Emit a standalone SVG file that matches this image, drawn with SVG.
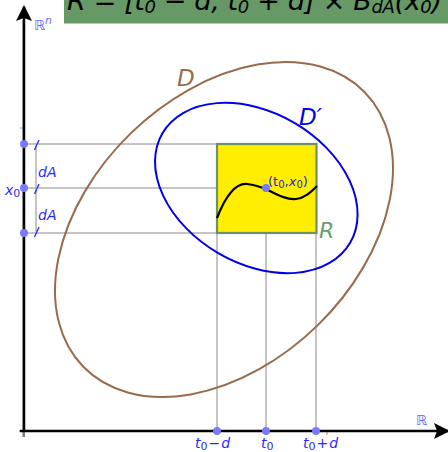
<svg xmlns="http://www.w3.org/2000/svg" width="448" height="452" viewBox="0 0 448 452">
<style>
.grid{stroke:#c4c4c4;stroke-width:2;fill:none}
.lbl{font-family:"DejaVu Sans","Liberation Sans",sans-serif;fill:#2828ff}
.it{font-style:italic}
.dot{fill:#7a7aff}
.slash{stroke:#2828ff;stroke-width:1.3}
</style>
<defs>
<marker id="ah" viewBox="0 0 16 16" refX="14" refY="8" markerWidth="16" markerHeight="16" markerUnits="userSpaceOnUse" orient="auto">
<path d="M0,0 L16,8 L0,16 L3,8 Z" fill="#000"/>
</marker>
</defs>
<rect width="448" height="452" fill="#fff"/>
<g id="title">
<rect x="64" y="0" width="384" height="23.5" fill="#669966"/>
<text x="67" y="10" font-family="'DejaVu Sans',sans-serif" font-style="italic" font-size="27" fill="#000" textLength="375" lengthAdjust="spacing">R = [t<tspan font-size="18" dy="3">0</tspan><tspan dy="-3"> − d, t</tspan><tspan font-size="18" dy="3">0</tspan><tspan dy="-3"> + d] × B</tspan><tspan font-size="18" dy="3">dA</tspan><tspan dy="-3">(x</tspan><tspan font-size="18" dy="3">0</tspan><tspan dy="-3">)</tspan></text>
</g>
<g id="connectors">
<line class="grid" x1="24" y1="144" x2="317" y2="144"/>
<line class="grid" x1="24" y1="188" x2="266" y2="188"/>
<line class="grid" x1="24" y1="233" x2="317" y2="233"/>
<line class="grid" x1="217" y1="144" x2="217" y2="431"/>
<line class="grid" x1="266" y1="188" x2="266" y2="431"/>
<line class="grid" x1="316" y1="144" x2="316" y2="431"/>
<line class="grid" x1="36" y1="144" x2="36" y2="233"/>
</g>
<g id="axes">
<line x1="22.5" y1="20" x2="22.5" y2="437" stroke="#bbb" stroke-width="1"/>
<line x1="20" y1="128" x2="24" y2="128" stroke="#999" stroke-width="1"/>
<line x1="19" y1="431" x2="24" y2="431" stroke="#555" stroke-width="1"/>
<line x1="24" y1="431" x2="24" y2="437" stroke="#555" stroke-width="1.5"/>
<line x1="327" y1="431" x2="327" y2="435" stroke="#999" stroke-width="1"/>
<line x1="24" y1="432" x2="24" y2="7" stroke="#000" stroke-width="2.5" marker-end="url(#ah)"/>
<line x1="20" y1="431" x2="448" y2="431" stroke="#000" stroke-width="2.5" marker-end="url(#ah)"/>
<text class="lbl" x="34" y="30" font-size="14" style="fill:#6a6aff">ℝ<tspan font-size="11" dy="-6" font-style="italic">n</tspan></text>
<text class="lbl" x="416" y="425" font-size="14" style="fill:#6a6aff">ℝ</text>
</g>
<g id="D">
<ellipse cx="224" cy="229.5" rx="196.6" ry="134" transform="rotate(-44.3 224 229.5)" fill="none" stroke="#9a6a4c" stroke-width="2"/>
<text x="177" y="86" font-family="'DejaVu Sans',sans-serif" font-style="italic" font-size="23" fill="#9a6a4c">D</text>
</g>
<g id="Dprime">
<ellipse cx="256.3" cy="188" rx="108.7" ry="75.5" transform="rotate(30.3 256.3 188)" fill="none" stroke="#0000ee" stroke-width="2"/>
<text x="299" y="125" font-family="'DejaVu Sans',sans-serif" font-style="italic" font-size="23" fill="#0000ee">D′</text>
</g>
<g id="R">
<rect x="217" y="144" width="99.5" height="89" fill="#ffee00" stroke="#6e9164" stroke-width="2.2"/>
<text x="319" y="238" font-family="'DejaVu Sans',sans-serif" font-style="italic" font-size="22" fill="#6e9e6e">R</text>
</g>
<g id="curve">
<path d="M217,218 C226,195 236,183 247,184 C256,185 261,187 268,190 C278,195 287,200 296,199 C305,198 311,192 317,186" fill="none" stroke="#000" stroke-width="2.2"/>
</g>
<g id="point">
<circle class="dot" cx="266" cy="188" r="4"/>
<text class="lbl" x="268" y="186" font-size="13" style="fill:#2626d0">(t<tspan font-size="10" dy="2">0</tspan><tspan dy="-2">,</tspan><tspan font-style="italic">x</tspan><tspan font-size="10" dy="2">0</tspan><tspan dy="-2">)</tspan></text>
</g>
<g id="yaxis-marks">
<circle class="dot" cx="24" cy="144" r="4"/>
<circle class="dot" cx="24" cy="188" r="4"/>
<circle class="dot" cx="24" cy="233" r="4"/>
<line class="slash" x1="34.5" y1="150" x2="39" y2="140"/>
<line class="slash" x1="34.5" y1="194" x2="39" y2="184"/>
<line class="slash" x1="34.5" y1="237" x2="39" y2="227"/>
<text class="lbl it" x="38" y="177" font-size="14">dA</text>
<text class="lbl it" x="38" y="220" font-size="14">dA</text>
<text class="lbl it" x="5" y="195" font-size="14">x<tspan font-size="11" dy="2" font-style="normal">0</tspan></text>
</g>
<g id="xaxis-marks">
<circle class="dot" cx="217" cy="431" r="4"/>
<circle class="dot" cx="266" cy="431" r="4"/>
<circle class="dot" cx="316" cy="431" r="4"/>
<text class="lbl it" x="195" y="448" font-size="14">t<tspan font-size="11" dy="2" font-style="normal">0</tspan><tspan dy="-2" font-style="normal" dx="1">−</tspan><tspan dx="1">d</tspan></text>
<text class="lbl it" x="261" y="448" font-size="14">t<tspan font-size="11" dy="2" font-style="normal">0</tspan></text>
<text class="lbl it" x="303" y="448" font-size="14">t<tspan font-size="11" dy="2" font-style="normal">0</tspan><tspan dy="-2" font-style="normal" dx="1">+</tspan><tspan dx="1">d</tspan></text>
</g>
</svg>
